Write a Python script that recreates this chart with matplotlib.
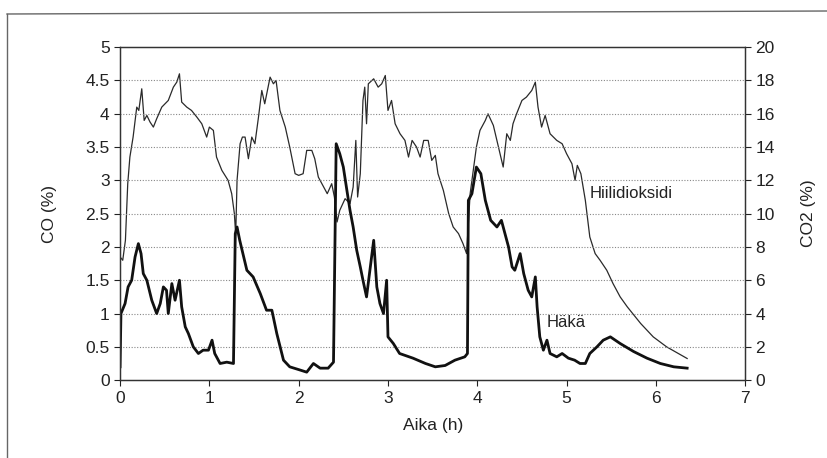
import matplotlib
matplotlib.use("Agg")
import matplotlib.pyplot as plt
from matplotlib.lines import Line2D

plt.rcParams['font.family'] = ['Liberation Sans', 'DejaVu Sans']

# hiilidioksidi (CO2 %)
t_co2 = [0.0, 0.03, 0.06, 0.086, 0.11, 0.146, 0.187, 0.21, 0.243, 0.27, 0.30, 0.336,
         0.373, 0.41, 0.467, 0.54, 0.597, 0.635, 0.665, 0.69, 0.747, 0.80, 0.86, 0.915,
         0.97, 1.0, 1.045, 1.08, 1.14, 1.21, 1.25, 1.28, 1.295, 1.31, 1.344, 1.37, 1.40,
         1.437, 1.475, 1.51, 1.55, 1.587, 1.62, 1.68, 1.717, 1.747, 1.79, 1.85, 1.90,
         1.96, 2.0, 2.05, 2.09, 2.147, 2.18, 2.22, 2.28, 2.32, 2.37, 2.40, 2.43, 2.46,
         2.52, 2.575, 2.61, 2.64, 2.66, 2.69, 2.72, 2.74, 2.76, 2.78, 2.84, 2.89, 2.93,
         2.97, 3.0, 3.04, 3.08, 3.135, 3.19, 3.23, 3.27, 3.32, 3.36, 3.40, 3.45, 3.49,
         3.53, 3.56, 3.62, 3.68, 3.73, 3.79, 3.84, 3.88, 3.92, 3.96, 3.99, 4.03, 4.09,
         4.12, 4.18, 4.22, 4.255, 4.29, 4.33, 4.37, 4.40, 4.44, 4.50, 4.55, 4.61, 4.65,
         4.68, 4.72, 4.76, 4.815, 4.89, 4.95, 5.0, 5.06, 5.095, 5.12, 5.16, 5.21, 5.26,
         5.32, 5.375, 5.45, 5.52, 5.6, 5.68, 5.83, 5.97, 6.12, 6.35]
co2 = [7.4, 7.2, 8.4, 11.8, 13.4, 14.6, 16.4, 16.2, 17.5, 15.6, 15.9, 15.5,
       15.2, 15.7, 16.4, 16.8, 17.6, 17.9, 18.4, 16.7, 16.4, 16.2, 15.8, 15.4,
       14.6, 15.2, 15.0, 13.4, 12.6, 12.0, 11.2, 10.0, 8.7, 12.0, 14.2, 14.6, 14.6,
       13.3, 14.6, 14.2, 15.8, 17.4, 16.6, 18.2, 17.8, 18.0, 16.2, 15.2, 14.0,
       12.4, 12.3, 12.4, 13.8, 13.8, 13.3, 12.2, 11.6, 11.2, 11.8, 11.0, 9.5, 10.2,
       10.9, 10.6, 11.6, 14.4, 11.0, 12.4, 16.8, 17.6, 15.4, 17.8, 18.1, 17.6, 17.8,
       18.3, 16.2, 16.8, 15.4, 14.8, 14.4, 13.4, 14.4, 14.0, 13.4, 14.4, 14.4, 13.2,
       13.5, 12.4, 11.4, 10.0, 9.2, 8.8, 8.2, 7.6, 11.2, 12.8, 14.0, 15.0, 15.6,
       16.0, 15.3, 14.4, 13.6, 12.8, 14.8, 14.4, 15.4, 16.0, 16.8, 17.0, 17.4, 17.9,
       16.4, 15.2, 15.9, 14.8, 14.4, 14.2, 13.6, 13.0, 12.0, 12.9, 12.4, 10.8, 8.6,
       7.6, 7.2, 6.6, 5.8, 5.0, 4.4, 3.4, 2.6, 2.0, 1.3]

# häkä (CO %)
t_co = [0.0, 0.01, 0.056, 0.09, 0.13, 0.168, 0.205, 0.235, 0.26, 0.30, 0.355, 0.41,
        0.45, 0.485, 0.52, 0.54, 0.58, 0.616, 0.665, 0.69, 0.73, 0.765, 0.82, 0.877,
        0.93, 0.99, 1.03, 1.06, 1.12, 1.195, 1.27, 1.29, 1.31, 1.34, 1.42, 1.49, 1.57,
        1.64, 1.70, 1.755, 1.83, 1.90, 2.02, 2.09, 2.165, 2.24, 2.33, 2.39, 2.42, 2.46,
        2.50, 2.54, 2.575, 2.61, 2.65, 2.69, 2.72, 2.76, 2.84, 2.875, 2.91, 2.95, 2.985,
        3.0, 3.06, 3.13, 3.28, 3.42, 3.53, 3.64, 3.75, 3.86, 3.89, 3.90, 3.94, 3.99,
        4.04, 4.09, 4.15, 4.22, 4.27, 4.35, 4.39, 4.42, 4.48, 4.52, 4.57, 4.61, 4.65,
        4.67, 4.70, 4.74, 4.78, 4.815, 4.89, 4.95, 5.02, 5.09, 5.15, 5.21, 5.26, 5.34,
        5.41, 5.49, 5.60, 5.75, 5.90, 6.05, 6.20, 6.35]
co = [0.2, 1.0, 1.15, 1.4, 1.5, 1.85, 2.05, 1.9, 1.6, 1.5, 1.2, 1.0,
      1.15, 1.4, 1.35, 1.0, 1.45, 1.2, 1.5, 1.1, 0.8, 0.7, 0.5, 0.4,
      0.45, 0.45, 0.6, 0.4, 0.25, 0.27, 0.25, 2.2, 2.3, 2.1, 1.65, 1.55, 1.3,
      1.05, 1.05, 0.7, 0.3, 0.2, 0.15, 0.12, 0.25, 0.18, 0.18, 0.27, 3.55, 3.4,
      3.2, 2.85, 2.55, 2.3, 1.95, 1.7, 1.5, 1.25, 2.1, 1.4, 1.15, 1.0, 1.5,
      0.65, 0.55, 0.4, 0.33, 0.25, 0.2, 0.22, 0.3, 0.35, 0.4, 2.7, 2.8, 3.2,
      3.1, 2.7, 2.4, 2.3, 2.4, 2.0, 1.7, 1.65, 1.9, 1.6, 1.35, 1.25, 1.55,
      1.1, 0.65, 0.45, 0.6, 0.4, 0.35, 0.4, 0.33, 0.3, 0.25, 0.25, 0.4, 0.5,
      0.6, 0.65, 0.55, 0.43, 0.33, 0.25, 0.2, 0.18]

x_ticks = [0, 1, 2, 3, 4, 5, 6, 7]
co_ticks = [0, 0.5, 1, 1.5, 2, 2.5, 3, 3.5, 4, 4.5, 5]
co_tick_labels = ['0', '0.5', '1', '1.5', '2', '2.5', '3', '3.5', '4', '4.5', '5']
co2_ticks = [0, 2, 4, 6, 8, 10, 12, 14, 16, 18, 20]

fig = plt.figure(figsize=(8.28, 4.58), dpi=100)
ax = fig.add_axes([0.145, 0.170, 0.755, 0.727])
ax2 = ax.twinx()

# dotted grid lines
for y in co_ticks[1:-1]:
    ax.axhline(y, color='#888888', lw=0.8, ls=(0, (1, 1.5)), zorder=0)

ax2.plot(t_co2, co2, color='#2a2a2a', lw=0.9)
ax.plot(t_co, co, color='#111111', lw=2.0)
ax.set_zorder(ax2.get_zorder() + 1)
ax.patch.set_visible(False)

ax.set_xlim(0, 7)
ax.set_ylim(0, 5)
ax2.set_ylim(0, 20)
ax.set_xticks(x_ticks)
ax.set_yticks(co_ticks)
ax.set_yticklabels(co_tick_labels)
ax2.set_yticks(co2_ticks)

for a in (ax, ax2):
    a.tick_params(direction='out', length=4, width=0.8, labelsize=12.5, colors='#222222')
    for s in a.spines.values():
        s.set_color('#333333')
        s.set_linewidth(0.9)

ax.set_xlabel('Aika (h)', fontsize=12.5, color='#222222', labelpad=9)
ax.set_ylabel('CO (%)', fontsize=12.5, color='#222222', labelpad=20)
ax2.set_ylabel('CO2 (%)', fontsize=12.5, color='#222222', labelpad=19)

ax.text(5.26, 2.81, 'Hiilidioksidi', fontsize=12, va='center', ha='left', color='#222222')
ax.text(4.78, 0.86, 'Häkä', fontsize=12, va='center', ha='left', color='#222222')

# frame of the scanned page
fig.add_artist(Line2D([7 / 828, 7 / 828], [0, 1 - 14 / 458], color='#666666', lw=1.0))
fig.add_artist(Line2D([7 / 828, 1], [1 - 14 / 458, 1 - 11 / 458], color='#666666', lw=1.0))

fig.savefig('out.png', dpi=100)
